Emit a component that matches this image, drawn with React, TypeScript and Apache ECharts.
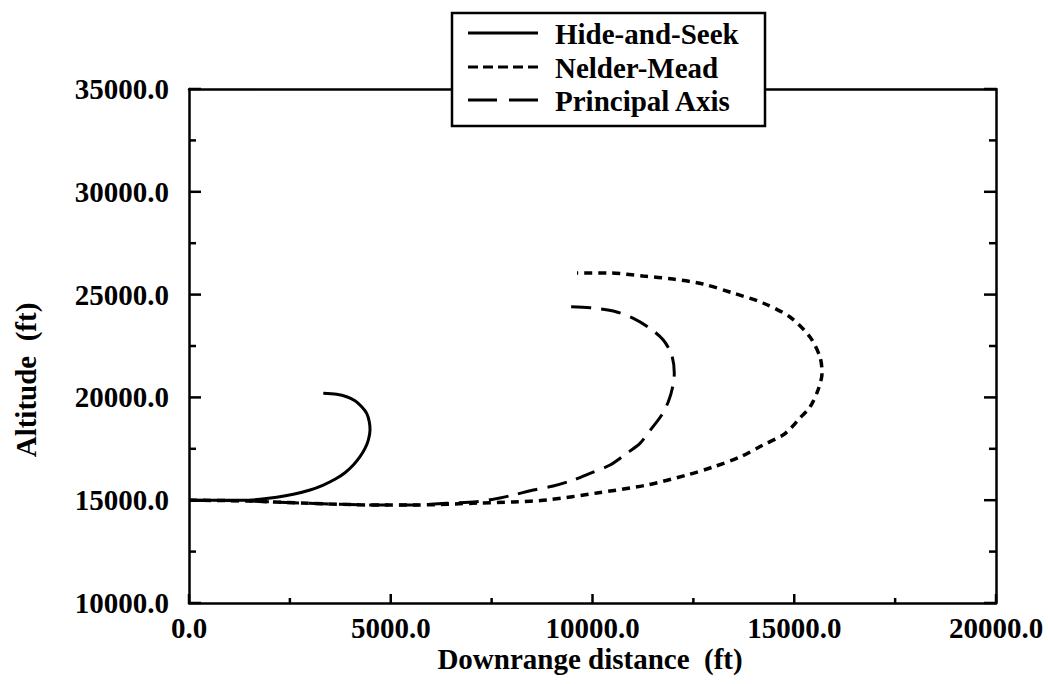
import React, { useEffect, useRef } from "react";
import * as echarts from "echarts";

// Trajectories: [downrange distance (ft), altitude (ft)]
const hideAndSeek: [number, number][] = [
  [0, 15000], [602, 15000], [1346, 14995], [1760, 15043], [2174, 15140],
  [2585, 15286], [2999, 15495], [3328, 15738], [3618, 16016], [3866, 16337],
  [4072, 16711], [4238, 17115], [4362, 17523], [4444, 17927], [4486, 18414],
  [4468, 18817], [4404, 19226], [4280, 19547], [4114, 19839], [3908, 20033],
  [3660, 20150], [3328, 20199],
];

const nelderMead: [number, number][] = [
  [0, 15000], [1512, 14960], [2751, 14863], [4734, 14766], [5551, 14766],
  [7212, 14863], [8030, 14912], [8872, 15010], [10111, 15350], [11351, 15739],
  [12342, 16225], [12986, 16614], [13655, 17100], [14225, 17684], [14721, 18170],
  [14937, 18545], [15142, 18997], [15390, 19532], [15589, 20359], [15688, 21186],
  [15638, 21964], [15390, 22937], [14894, 23910], [14225, 24591], [13482, 25077],
  [12738, 25515], [11995, 25758], [11251, 25904], [10434, 26050], [9616, 26050],
];

const principalAxis: [number, number][] = [
  [0, 15000], [1512, 14960], [2751, 14863], [4734, 14766], [5559, 14766],
  [6387, 14848], [7129, 14926], [7541, 15043], [8037, 15252], [8533, 15495],
  [9028, 15690], [9524, 15982], [9938, 16308], [10434, 16712], [10847, 17280],
  [11177, 17766], [11467, 18496], [11715, 19144], [11879, 19790], [11988, 20520],
  [12027, 21171], [11963, 22062], [11755, 22791], [11425, 23360], [11012, 23847],
  [10516, 24202], [9938, 24363], [9393, 24412],
];

const seriesNames = ["Hide-and-Seek", "Nelder-Mead", "Principal Axis"];
const xTitle = "Downrange distance  (ft)";
const yTitle = "Altitude  (ft)";

// Tick positions (major every 5000, minor halfway between)
const xTickValues = [0, 2500, 5000, 7500, 10000, 12500, 15000, 17500, 20000];
const yTickValues = [10000, 12500, 15000, 17500, 20000, 22500, 25000, 27500, 30000, 32500, 35000];
const X_MIN = 0;
const X_MAX = 20000;
const Y_MIN = 10000;
const Y_MAX = 35000;
const MAJOR_STEP = 5000;

const FONT = "'Liberation Serif', 'Times New Roman', serif";
const dotted = [8, 6];
const longDash = [20, 10];

export default function App() {
  const ref = useRef<HTMLDivElement>(null);

  useEffect(() => {
    if (!ref.current) return;
    const chart = echarts.init(ref.current, undefined, { renderer: "svg" });

    const labelStyle = {
      color: "#000",
      fontFamily: FONT,
      fontWeight: "bold" as const,
      fontSize: 29,
    };
    const axisLine = { show: true, onZero: false, lineStyle: { color: "#000", width: 2.5 } };

    // Inward tick marks drawn at axis values; dx/dy give the direction into the plot
    const tickSeries = (
      data: [number, number][],
      dim: 0 | 1,
      dx: number,
      dy: number,
      majorLen: number,
      minorLen: number
    ) => ({
      type: "custom",
      silent: true,
      clip: false,
      z: 5,
      data,
      renderItem: (_params: any, api: any) => {
        const v = [api.value(0), api.value(1)];
        const p = api.coord(v);
        const len = v[dim] % MAJOR_STEP === 0 ? majorLen : minorLen;
        return {
          type: "line",
          shape: { x1: p[0], y1: p[1], x2: p[0] + dx * len, y2: p[1] + dy * len },
          style: { stroke: "#000", lineWidth: 2.5 },
        };
      },
    });

    const legendRows = [
      { name: seriesNames[0], y: 33, dash: null as number[] | null },
      { name: seriesNames[1], y: 67, dash: [10, 5] },
      { name: seriesNames[2], y: 100, dash: [29, 12] },
    ];

    chart.setOption({
      animation: false,
      backgroundColor: "#fff",
      grid: { left: 189, right: 52, top: 89, bottom: 81 },
      xAxis: [
        {
          type: "value",
          min: X_MIN,
          max: X_MAX,
          interval: MAJOR_STEP,
          axisLine,
          axisTick: { show: false },
          splitLine: { show: false },
          axisLabel: {
            ...labelStyle,
            margin: 10,
            formatter: (v: number) => v.toFixed(1),
          },
        },
        {
          type: "value",
          position: "top",
          min: X_MIN,
          max: X_MAX,
          axisLine,
          axisTick: { show: false },
          axisLabel: { show: false },
          splitLine: { show: false },
        },
      ],
      yAxis: [
        {
          type: "value",
          min: Y_MIN,
          max: Y_MAX,
          interval: MAJOR_STEP,
          axisLine,
          axisTick: { show: false },
          splitLine: { show: false },
          axisLabel: {
            ...labelStyle,
            margin: 20,
            formatter: (v: number) => v.toFixed(1),
          },
        },
        {
          type: "value",
          position: "right",
          min: Y_MIN,
          max: Y_MAX,
          axisLine,
          axisTick: { show: false },
          splitLine: { show: false },
          axisLabel: { show: false },
        },
      ],
      series: [
        {
          name: seriesNames[0],
          type: "line",
          data: hideAndSeek,
          smooth: 0.3,
          showSymbol: false,
          lineStyle: { color: "#000", width: 3 },
        },
        {
          name: seriesNames[1],
          type: "line",
          data: nelderMead,
          smooth: 0.3,
          showSymbol: false,
          lineStyle: { color: "#000", width: 3.5, type: dotted },
        },
        {
          name: seriesNames[2],
          type: "line",
          data: principalAxis,
          smooth: 0.3,
          showSymbol: false,
          lineStyle: { color: "#000", width: 3, type: longDash },
        },
        tickSeries(xTickValues.map((v) => [v, Y_MIN] as [number, number]), 0, 0, -1, 9, 5),
        tickSeries(yTickValues.map((v) => [X_MIN, v] as [number, number]), 1, 1, 0, 12, 7),
        tickSeries(yTickValues.map((v) => [X_MAX, v] as [number, number]), 1, -1, 0, 12, 7),
      ],
      graphic: [
        {
          type: "text",
          x: 590,
          y: 659,
          style: {
            text: xTitle,
            fill: "#000",
            font: `bold 29px ${FONT}`,
            align: "center",
            verticalAlign: "middle",
          },
        },
        {
          type: "text",
          x: 26,
          y: 380,
          rotation: Math.PI / 2,
          style: {
            text: yTitle,
            fill: "#000",
            font: `bold 29px ${FONT}`,
            align: "center",
            verticalAlign: "middle",
          },
        },
        {
          type: "rect",
          shape: { x: 452, y: 13, width: 313, height: 113 },
          style: { fill: "#fff", stroke: "#000", lineWidth: 2.5 },
          z: 100,
        },
        ...legendRows.flatMap((row) => [
          {
            type: "line",
            shape: { x1: 468, y1: row.y, x2: 538, y2: row.y },
            style: {
              stroke: "#000",
              lineWidth: 3,
              lineDash: row.dash ?? undefined,
            },
            z: 101,
          },
          {
            type: "text",
            x: 555,
            y: row.y + 1,
            style: {
              text: row.name,
              fill: "#000",
              font: `bold 29px ${FONT}`,
              align: "left",
              verticalAlign: "middle",
            },
            z: 101,
          },
        ]),
      ],
    });

    return () => chart.dispose();
  }, []);

  return (
    <div
      ref={ref}
      style={{ position: "fixed", left: 0, top: 0, width: 1048, height: 684 }}
    />
  );
}
